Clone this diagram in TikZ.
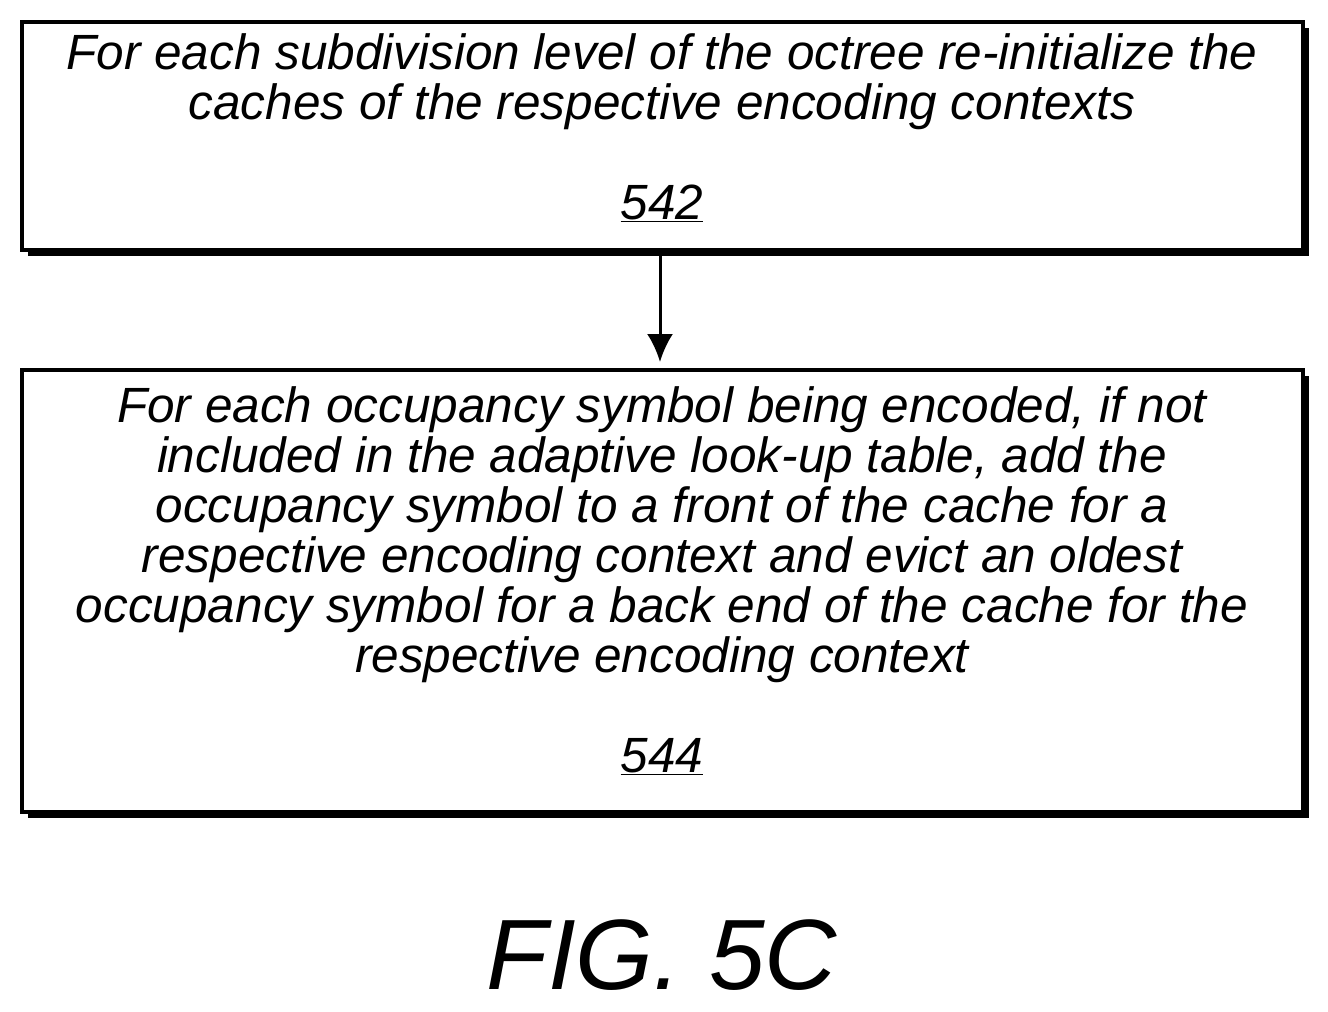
\documentclass[tikz,border=0pt]{standalone}
\usepackage{fontspec}
\setmainfont{Liberation Sans}
\usetikzlibrary{positioning,arrows.meta}
\tikzset{
  boxtext/.style={align=center, font=\fontsize{49.5}{50}\selectfont\itshape, anchor=north}
}
\begin{document}
\begin{tikzpicture}[x=1pt, y=-1pt, line width=4pt]
  \useasboundingbox (0,0) rectangle (1328,1012);
  % shadows
  \fill (28,28) rectangle (1309,256);
  \fill (28,376) rectangle (1309,818);
  % boxes
  \draw[fill=white] (22,22) rectangle (1303,250);
  \draw[fill=white] (22,370) rectangle (1303,812);
  \node[boxtext] (B542) at (662,28)
    {For each subdivision level of the octree re-initialize the\\caches of the respective encoding contexts\\[50pt]\underline{542}};
  \node[boxtext] (B544) at (662,381)
    {For each occupancy symbol being encoded, if not\\included in the adaptive look-up table, add the\\occupancy symbol to a front of the cache for a\\respective encoding context and evict an oldest\\occupancy symbol for a back end of the cache for the\\respective encoding context\\[50pt]\underline{544}};
  \coordinate (A1) at (660,252);
  \coordinate (A2) at (660,362);
  \draw[line width=3pt, -{Latex[length=28pt,width=26pt]}] (A1) -- (A2);
  \node[font=\fontsize{100}{110}\selectfont\itshape] (FIG) at (662,955) {FIG. 5C};
\end{tikzpicture}
\end{document}
